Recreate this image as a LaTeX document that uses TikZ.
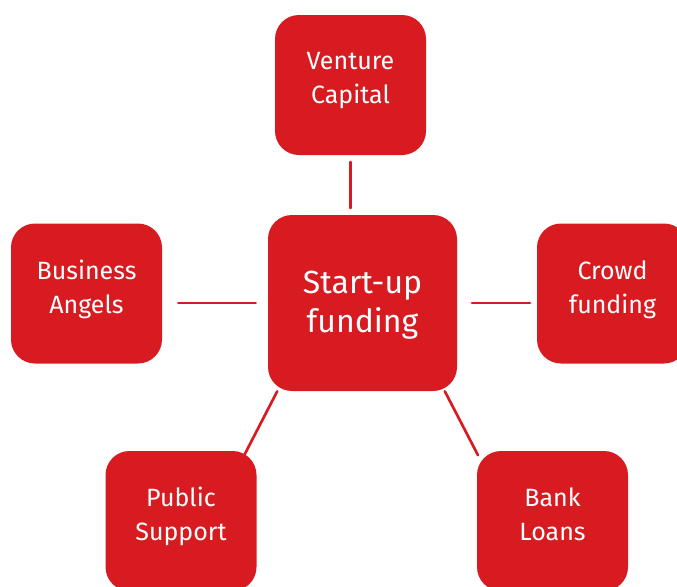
\documentclass[tikz,border=0pt]{standalone}
\usepackage{fontspec}
\setmainfont{Fira Sans}
\definecolor{fundred}{RGB}{216,27,33}
\begin{document}
\begin{tikzpicture}[x=.75pt, y=-.75pt, line join=round, line cap=round,
		box/.style={fill=fundred, rounded corners=18pt, inner sep=0pt, minimum width=113.25pt, minimum height=105pt},
		hub/.style={box, minimum width=141.75pt, minimum height=132pt},
		txt/.style={text=white, align=center, font={\fontsize{18.75}{25.5}\selectfont}, execute at begin node=\strut, execute at end node=\strut},
		hubtxt/.style={txt, font={\fontsize{24}{29.25}\selectfont}},
		link/.style={draw=fundred, line width=2pt}]
	\def\up{1.25pt} % Text etwas ueber der Mitte
	\useasboundingbox (0,0) rectangle (677,586);
	\clip (0,0) rectangle (677,586);
	% Kaesten
	\node[hub] (su) at (362.5,303) {};
	\node[box] (vc) at (350.5,85) {};
	\node[box] (ba) at (86.5,293.5) {};
	\node[box] (cf) at (612.5,293.5) {};
	\node[box] (ps) at (181,521) {};
	\node[box] (bl) at (552.5,521) {};
	% Beschriftung
	\node[hubtxt] (sut) at ([yshift=-3.5pt]su) {Start-up\\funding};
	\node[txt] (vct) at ([yshift=\up]vc) {Venture\\Capital};
	\node[txt] (bat) at ([yshift=\up]ba) {Business\\Angels};
	\node[txt] (cft) at ([yshift=\up]cf) {Crowd\\funding};
	\node[txt] (pst) at ([yshift=\up]ps) {Public\\Support};
	\node[txt] (blt) at ([yshift=\up]bl) {Bank\\Loans};
	% Verbindungen
	\draw[link, shorten <=5pt, shorten >=5pt] (vc.south) -- (vc.south |- su.north);
	\draw[link, shorten <=9pt, shorten >=12pt] (su.west) -- (su.west -| ba.east);
	\draw[link, shorten <=11pt, shorten >=5pt] (su.east) -- (su.east -| cf.west);
	\draw[link, shorten >=-4pt] (su.226) -- (ps.47);
	\draw[link, shorten >=-2pt] (su.313) -- (bl.138);
\end{tikzpicture}
\end{document}
